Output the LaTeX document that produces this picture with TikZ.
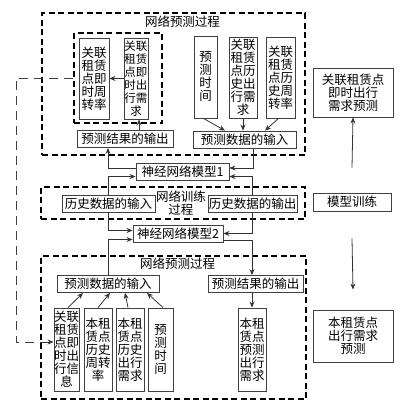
\documentclass[tikz,border=0pt]{standalone}
\usepackage{fontspec}
\newfontfamily\cjk{Noto Sans CJK SC}
\usetikzlibrary{arrows.meta}
\begin{document}
\begin{tikzpicture}[x=1pt,y=-1pt,
  font=\cjk\fontsize{12.5}{13}\selectfont,
  bx/.style={draw=black!75, line width=0.9pt, inner sep=0pt, align=center},
  dbox/.style={draw, line width=1.3pt, dash pattern=on 6pt off 3.5pt, inner sep=0pt},
  ar/.style={-{Stealth[length=6pt,width=5pt]}, line width=0.8pt, black!80},
  dl/.style={line width=0.8pt, black!75, dash pattern=on 9pt off 6pt}]
\useasboundingbox (0,0) rectangle (416,410);
% dashed frames
\node[dbox, minimum width=263pt, minimum height=142pt] (topf) at (173.5,84) {};
\node[dbox, minimum width=88pt, minimum height=90pt] (ibox) at (118,78) {};
\node[dbox, minimum width=264pt, minimum height=32pt] (midf) at (173,203) {};
\node[dbox, minimum width=265pt, minimum height=143pt] (botf) at (173.5,327.5) {};
% titles
\node (t1) at (182.5,22) {网络预测过程};
\node (t2) at (177.5,264) {网络预测过程};
\node[align=center] (ml) at (181,203) {网络训练\\过程};
% top boxes
\node[bx, minimum width=30pt, minimum height=81pt] (T1) at (94,78.5) {关联\\租赁\\点即\\时周\\转率};
\node[bx, minimum width=24pt, minimum height=81pt, font=\cjk\fontsize{11.5}{13}\selectfont] (T2) at (136,78.5) {关联\\租赁\\点即\\时出\\行需\\求};
\node[bx, minimum width=23pt, minimum height=82pt] (T3) at (205.5,77) {预\\测\\时\\间};
\node[bx, minimum width=28pt, minimum height=81pt] (T4) at (243,77.5) {关联\\租赁\\点历\\史出\\行需\\求};
\node[bx, minimum width=29pt, minimum height=81pt] (T5) at (280.5,77.5) {关联\\租赁\\点历\\史周\\转率};
\node[bx, minimum width=96pt, minimum height=17pt] (TO) at (125,139) {预测结果的输出};
\node[bx, minimum width=103pt, minimum height=17pt] (TI) at (244.5,139.5) {预测数据的输入};
% models and training
\node[bx, minimum width=93pt, minimum height=17pt] (M1) at (182.5,171.5) {神经网络模型1};
\node[bx, minimum width=93pt, minimum height=17pt] (HI) at (108.5,203.5) {历史数据的输入};
\node[bx, minimum width=89pt, minimum height=17pt] (HO) at (252.5,203.5) {历史数据的输出};
\node[bx, minimum width=90pt, minimum height=17pt] (M2) at (178,233.5) {神经网络模型2};
% bottom boxes
\node[bx, minimum width=102pt, minimum height=17pt] (BI) at (108,284) {预测数据的输入};
\node[bx, minimum width=95pt, minimum height=17pt] (BO) at (255.5,284) {预测结果的输出};
\node[bx, minimum width=25pt, minimum height=83pt] (B1) at (66.5,349.5) {关联\\租赁\\点即\\时出\\行信\\息};
\node[bx, minimum width=28pt, minimum height=83pt] (B2) at (98,349.5) {本租\\赁点\\历史\\周转\\率};
\node[bx, minimum width=28pt, minimum height=83pt] (B3) at (130,349.5) {本租\\赁点\\历史\\出行\\需求};
\node[bx, minimum width=25pt, minimum height=83pt] (B4) at (160.5,349.5) {预\\测\\时\\间};
\node[bx, minimum width=28pt, minimum height=83pt] (B5) at (252,349.5) {本租\\赁点\\预测\\出行\\需求};
% right column
\node[bx, minimum width=80pt, minimum height=49pt] (R1) at (353,92.5) {关联租赁点\\即时出行\\需求预测};
\node[bx, minimum width=78pt, minimum height=18pt] (R2) at (352,202) {模型训练};
\node[bx, minimum width=80pt, minimum height=52pt] (R3) at (353,336) {本租赁点\\出行需求\\预测};
% connectors top
\draw[ar] (T2.west) -- (T1.east);
\draw[ar] ([xshift=14pt]TO.north) -- ([xshift=14pt]TO.north |- T2.south);
\draw[ar] ([xshift=-2pt]T3.south) -- ([xshift=-19.5pt]TI.north);
\draw[ar] (T4.south) -- (T4.south |- TI.north);
\draw[ar] ([xshift=-2pt]T5.south) -- ([xshift=20.5pt]TI.north);
% model 1
\draw[ar] ([yshift=3.5pt]M1.west) -| ([xshift=-17pt]TO.south);
\draw[ar] (HI.north) |- ([yshift=-5pt]M1.west);
\draw[ar] ([xshift=9pt]TI.south) |- ([yshift=3.5pt]M1.east);
\draw[ar] (HO.north) |- ([yshift=-5pt]M1.east);
% model 2
\draw[ar] (HI.south) |- ([yshift=3pt]M2.west);
\draw[ar] (BI.north) |- ([yshift=-6pt]M2.west);
\draw[ar] (HO.south) |- (M2.east);
\draw[ar] ([yshift=-7pt]M2.east) -| ([xshift=-3.5pt]BO.north);
% bottom
\draw[ar] ([xshift=1.5pt]B1.north) -- ([xshift=-25pt]BI.south);
\draw[ar] (B2.north) -- ([xshift=2pt]BI.south);
\draw[ar] ([xshift=-2pt]B3.north) -- ([xshift=17pt]BI.south);
\draw[ar] ([xshift=2.5pt]B4.north) -- ([xshift=39pt]BI.south);
\draw[ar] (B5.north |- BO.south) -- (B5.north);
% left dashed feedback
\draw[dl] (ibox.west) -- ++(-57pt,0) coordinate (dla) |- coordinate (dlb) ([yshift=7.5pt]B1.west);
\draw[ar] ([xshift=-14pt,yshift=7.5pt]B1.west) -- ([yshift=7.5pt]B1.west);
% right column arrows
\draw[ar] ([yshift=25pt]R2.north) -- (R1.south);
\draw[ar] ([yshift=-27pt]R2.south) -- ([yshift=20pt]R3.north);
\end{tikzpicture}
\end{document}
